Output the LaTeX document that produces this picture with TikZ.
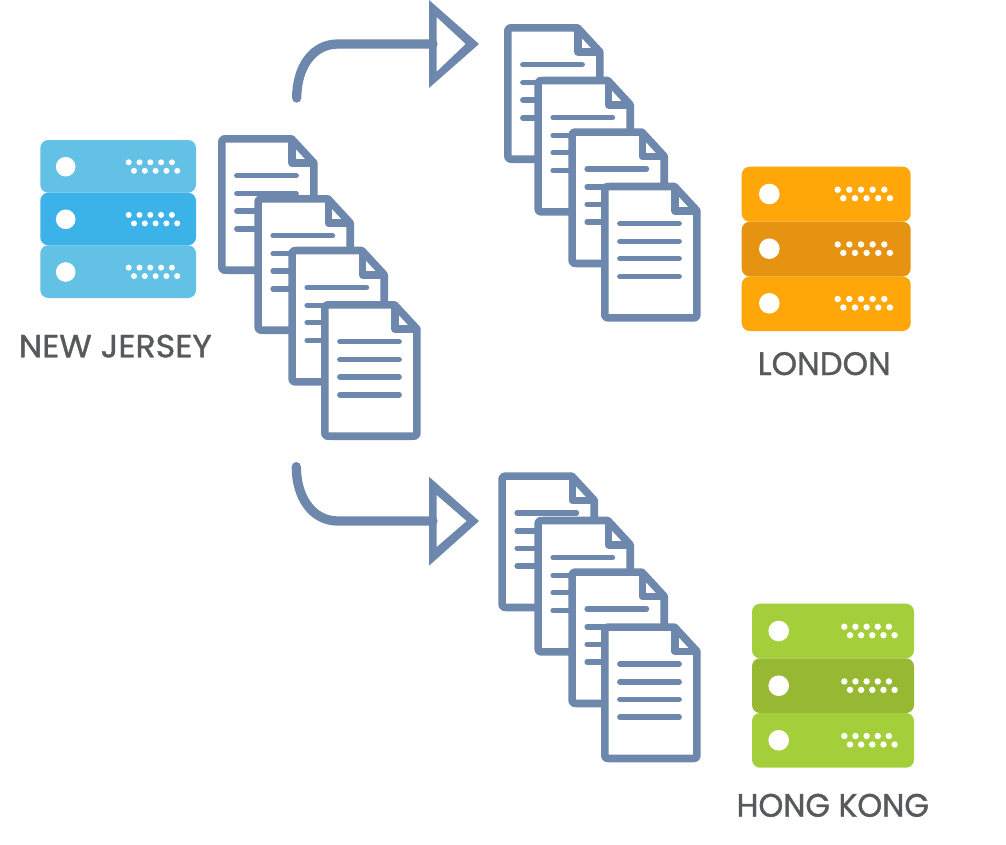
\documentclass[tikz,border=0pt]{standalone}
\usepackage{fontspec}
\usepackage{graphicx}
\setmainfont[FakeBold=1.1]{Poppins}
\definecolor{docblue}{HTML}{6D87AD}
\definecolor{txtgray}{HTML}{58595B}
\definecolor{njlight}{HTML}{62C1E5}
\definecolor{njdark}{HTML}{3BB2E8}
\definecolor{orlight}{HTML}{FFA608}
\definecolor{ordark}{HTML}{E59310}
\definecolor{grlight}{HTML}{A5CF3A}
\definecolor{grdark}{HTML}{96B833}
\tikzset{
  docpage/.style={draw=docblue,line width=7.6pt,fill=white,line join=round},
  docfold/.style={draw=docblue,line width=7.6pt,line join=round},
  docline/.style={draw=docblue,line width=5.4pt,line cap=round},
  shaft/.style={draw=docblue,line width=9.3pt},
  headfill/.style={fill=docblue,even odd rule},
  cityname/.style={text=txtgray,inner sep=0pt,outer sep=0pt,anchor=base},
  hole/.style={fill=white,draw=none},
}
% x, y of the outer top-left corner
\newcommand{\docicon}[2]{%
\begin{scope}[shift={(#1,#2)}]
  \draw[docpage] (73.5,3.8) -- (95.9,28) -- (95.9,129)
     .. controls (95.9,135.2) .. (89.7,135.2) -- (10,135.2)
     .. controls (3.8,135.2) .. (3.8,129) -- (3.8,10)
     .. controls (3.8,3.8) .. (10,3.8) -- cycle;
  \draw[docfold] (74,3.8) -- (74,28) -- (95.9,28);
  \foreach \ly in {40.7,58.6,76,93.8}{\draw[docline] (18.8,\ly) -- (78.2,\ly);}
\end{scope}}
% left, right, top, b1, b2, bottom, lightcolor, darkcolor
\newcommand{\rackrows}[8]{%
  \fill[#7,rounded corners=8pt] (#1,#3) rectangle (#2,#4);
  \fill[#7,rounded corners=8pt] (#1,#5) rectangle (#2,#6);
  \fill[#8,rounded corners=8pt] (#1,#4) rectangle (#2,#5);
}
% circle x, row mid, radius, first dot x, step, second row first x, dy1, dot r
\newcommand{\rackmarks}[8]{%
  \fill[hole] (#1,#2) circle (#3);
  \foreach \i in {0,1,2,3,4}{
    \fill[hole] ({#4+\i*#5},{#2+#7}) circle (#8);
    \fill[hole] ({#6+\i*#5},{#2+#7+8.5}) circle (#8);
  }
}
\begin{document}
\begin{tikzpicture}[x=1pt,y=-1pt]
\useasboundingbox (0,0) rectangle (1006,844);
\fill[white] (0,0) rectangle (1006,844);

% New Jersey rack
\rackrows{40.3}{196}{140}{192.7}{245.3}{298}{njlight}{njdark}
\rackmarks{65.7}{166.7}{9.8}{128.7}{10.8}{134}{-4.4}{3}
\rackmarks{65.7}{219.3}{9.8}{128.7}{10.8}{134}{-4.4}{3}
\rackmarks{65.7}{272}{9.8}{128.7}{10.8}{134}{-4.4}{3}
\node[cityname] (newjersey) at (115.3,357.3) {\resizebox{193pt}{22.6pt}{NEW JERSEY}};

% London rack
\rackrows{741.7}{910.7}{166.7}{221.7}{276.5}{331}{orlight}{ordark}
\rackmarks{769.3}{194}{10.3}{837.7}{11.65}{843.3}{-4.3}{3.2}
\rackmarks{769.3}{248.7}{10.3}{837.7}{11.65}{843.3}{-4.3}{3.2}
\rackmarks{769.3}{303.3}{10.3}{837.7}{11.65}{843.3}{-4.3}{3.2}
\node[cityname] (london) at (824.2,375) {\resizebox{133pt}{22.9pt}{LONDON}};

% Hong Kong rack
\rackrows{752}{914}{603.7}{658.3}{713}{767.7}{grlight}{grdark}
\rackmarks{778.7}{631}{10.3}{844.3}{11.15}{850}{-4.3}{3.2}
\rackmarks{778.7}{685.7}{10.3}{844.3}{11.15}{850}{-4.3}{3.2}
\rackmarks{778.7}{740.3}{10.3}{844.3}{11.15}{850}{-4.3}{3.2}
\node[cityname] (hongkong) at (832.8,816.7) {\resizebox{192.3pt}{22.9pt}{HONG KONG}};

% Document stacks
\docicon{218}{135}\docicon{254.3}{195}\docicon{288.3}{246.7}\docicon{321}{301}
\docicon{504}{24}\docicon{534.3}{76.7}\docicon{568.3}{128.3}\docicon{601}{182.7}
\docicon{498.3}{472.3}\docicon{534.3}{516.7}\docicon{568.3}{568.3}\docicon{601}{623.3}

% Upper arrow
\coordinate (upstart) at (296.7,98);
\coordinate (upbend) at (338,44);
\coordinate (uphead) at (433,44);
\draw[shaft,line cap=round] (upstart) .. controls (296.7,68) and (312,44) .. (upbend) -- (uphead);
\fill[headfill] (429,0) -- (479,44) -- (429,88) -- cycle
  (436.7,17) -- (465.7,44) -- (436.7,71.7) -- cycle;

% Lower arrow
\coordinate (lowstart) at (296.3,466.7);
\coordinate (lowbend) at (338,521);
\coordinate (lowhead) at (433,521);
\draw[shaft,line cap=round] (lowstart) .. controls (296.3,497) and (312,521) .. (lowbend) -- (lowhead);
\fill[headfill] (429,476.7) -- (479,521) -- (429,565.7) -- cycle
  (436.7,495) -- (466.7,521) -- (436.7,547) -- cycle;
\end{tikzpicture}
\end{document}
